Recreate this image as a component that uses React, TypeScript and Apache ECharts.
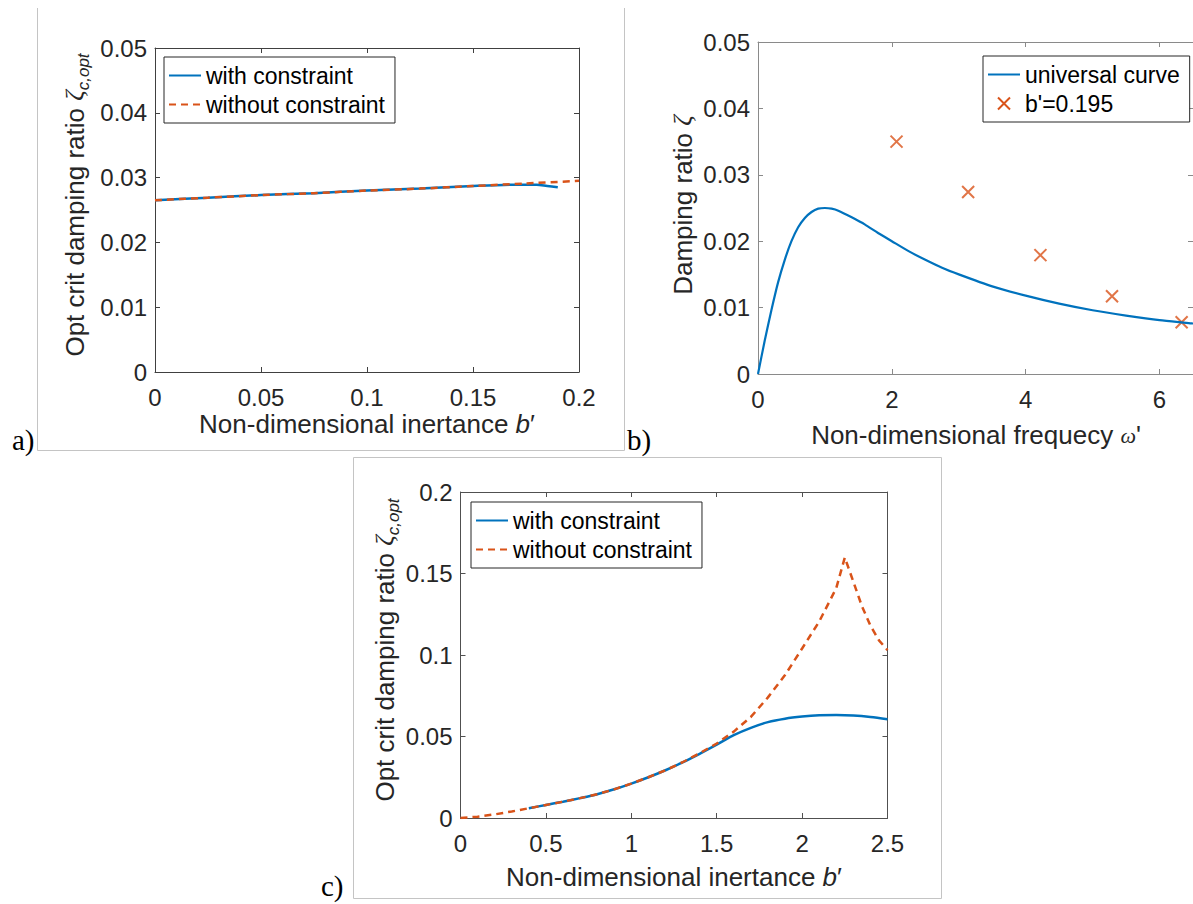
import React, { useEffect, useRef } from "react";
import * as echarts from "echarts";

// ---------- Panel a) data ----------
const aInertanceWith = [0, 0.025, 0.05, 0.075, 0.1, 0.125, 0.15, 0.17, 0.18, 0.185, 0.19];
const aZetaWith = [0.0265, 0.0269, 0.0273, 0.0276, 0.028, 0.0283, 0.0287, 0.0289, 0.0289, 0.0287, 0.0285];
const aInertanceWithout = [0, 0.025, 0.05, 0.075, 0.1, 0.125, 0.15, 0.175, 0.2];
const aZetaWithout = [0.0265, 0.0269, 0.0273, 0.0276, 0.028, 0.0283, 0.0287, 0.0291, 0.0295];
const aXTicks = [0, 0.05, 0.1, 0.15, 0.2];
const aYTicks = [0, 0.01, 0.02, 0.03, 0.04, 0.05];

// ---------- Panel b) data ----------
const bOmega = [0, 0.1, 0.2, 0.3, 0.4, 0.5, 0.6, 0.7, 0.8, 0.9, 1.0, 1.1, 1.2, 1.4, 1.6, 1.8, 2.0, 2.25, 2.5, 2.75, 3.0, 3.5, 4.0, 4.5, 5.0, 5.5, 6.0, 6.5];
const bZetaUniversal = [0, 0.005, 0.0096, 0.0138, 0.0172, 0.02, 0.0221, 0.0235, 0.0244, 0.0249, 0.025, 0.0249, 0.0246, 0.0236, 0.0225, 0.0212, 0.02, 0.0185, 0.0172, 0.016, 0.015, 0.0132, 0.0118, 0.0106, 0.0096, 0.0088, 0.0081, 0.0076];
const bOmegaMarks = [2.07, 3.14, 4.22, 5.29, 6.33];
const bZetaMarks = [0.035, 0.0274, 0.0179, 0.0117, 0.0078];
const bXTicks = [0, 2, 4, 6];
const bXMax = 6.5;
const bYTicks = [0, 0.01, 0.02, 0.03, 0.04, 0.05];

// ---------- Panel c) data ----------
const cInertanceWith = [0.4, 0.5, 0.6, 0.7, 0.8, 0.9, 1.0, 1.1, 1.2, 1.3, 1.4, 1.5, 1.6, 1.7, 1.8, 1.9, 2.0, 2.1, 2.2, 2.3, 2.4, 2.5];
const cZetaWith = [0.006, 0.008, 0.01, 0.0122, 0.0146, 0.0176, 0.0211, 0.025, 0.0293, 0.0341, 0.0394, 0.045, 0.0508, 0.0553, 0.0588, 0.0609, 0.0622, 0.063, 0.0632, 0.0629, 0.062, 0.0606];
const cInertanceWithout = [0, 0.1, 0.2, 0.3, 0.4, 0.5, 0.6, 0.7, 0.8, 0.9, 1.0, 1.1, 1.2, 1.3, 1.4, 1.5, 1.6, 1.7, 1.8, 1.9, 2.0, 2.1, 2.2, 2.25, 2.3, 2.35, 2.4, 2.45, 2.5];
const cZetaWithout = [0, 0.0008, 0.0022, 0.004, 0.006, 0.008, 0.01, 0.0122, 0.0146, 0.0176, 0.0211, 0.025, 0.0293, 0.0342, 0.0397, 0.0457, 0.053, 0.062, 0.074, 0.0877, 0.104, 0.1205, 0.141, 0.1598, 0.145, 0.13, 0.118, 0.109, 0.103];
const cXTicks = [0, 0.5, 1, 1.5, 2, 2.5];
const cYTicks = [0, 0.05, 0.1, 0.15, 0.2];

const seriesNames = ["with constraint", "without constraint"];
const bSeriesNames = ["universal curve", "b'=0.195"];

const BLUE = "#0072BD";
const ORANGE = "#D95319";
const FONT = "'Liberation Sans', Arial, Helvetica, sans-serif";
const SERIF = "'Liberation Serif', 'Times New Roman', serif";
const TXT = "#262626";
const XMARK = "path://M0,0L10,10M10,0L0,10";

const zip = (xs: number[], ys: number[]) => xs.map((x, i) => [x, ys[i]]);

function axisPair(
  kind: "x" | "y",
  gridIndex: number,
  ticks: number[],
  color: string,
  max?: number
) {
  const min = ticks[0];
  const interval = ticks[1] - ticks[0];
  const mx = max !== undefined ? max : ticks[ticks.length - 1];
  const base = {
    type: "value",
    gridIndex,
    min,
    max: mx,
    interval,
    splitLine: { show: false },
    axisLine: { show: true, onZero: false, lineStyle: { color, width: 1 } },
    axisTick: { show: true, inside: true, length: 5, lineStyle: { color, width: 1 } },
  };
  const main = {
    ...base,
    position: kind === "x" ? "bottom" : "left",
    axisLabel: {
      show: true,
      fontSize: 24,
      fontFamily: FONT,
      color: TXT,
      margin: kind === "x" ? 13 : 8,
      showMaxLabel: max !== undefined ? false : true,
    },
  };
  const other = {
    ...base,
    position: kind === "x" ? "top" : "right",
    axisLabel: { show: false },
  };
  return [main, other];
}

const hiddenDot = { opacity: 0 };

function legendBox(left: number, top: number, data: any[]) {
  return {
    left,
    top,
    orient: "vertical",
    itemWidth: 32,
    itemHeight: 12,
    itemGap: 6,
    padding: [7, 10, 7, 4],
    borderColor: TXT,
    borderWidth: 1,
    borderRadius: 0,
    backgroundColor: "#ffffff",
    selectedMode: false,
    textStyle: { fontSize: 23, color: "#000", fontFamily: FONT },
    data,
  };
}

function yTitle(x: number, y: number, text: string) {
  return {
    type: "text",
    x,
    y,
    rotation: Math.PI / 2,
    style: {
      text,
      align: "center",
      verticalAlign: "middle",
      rich: {
        n: { fontSize: 26, fontFamily: FONT, fill: TXT, lineHeight: 34 },
        z: { fontSize: 26, fontFamily: SERIF, fontStyle: "italic", fill: TXT, lineHeight: 34 },
        s: { fontSize: 17, fontFamily: FONT, fontStyle: "italic", fill: TXT, verticalAlign: "bottom" },
      },
    },
  };
}

function xTitle(x: number, y: number, text: string) {
  return {
    type: "text",
    x,
    y,
    style: {
      text,
      align: "center",
      verticalAlign: "middle",
      rich: {
        n: { fontSize: 26, fontFamily: FONT, fill: TXT, lineHeight: 26 },
        i: { fontSize: 26, fontFamily: FONT, fontStyle: "italic", fill: TXT, lineHeight: 26 },
        w: { fontSize: 22, fontFamily: SERIF, fontStyle: "italic", fill: TXT, lineHeight: 26 },
      },
    },
  };
}

function panelLabel(x: number, y: number, text: string) {
  return {
    type: "text",
    x,
    y,
    style: { text, fontSize: 29, fontFamily: SERIF, fill: "#000", align: "left", verticalAlign: "middle" },
  };
}

function frameLine(x1: number, y1: number, x2: number, y2: number) {
  return {
    type: "line",
    shape: { x1, y1, x2, y2 },
    style: { stroke: "#c4c4c4", lineWidth: 1 },
    silent: true,
  };
}

export default function App() {
  const ref = useRef<HTMLDivElement>(null);

  useEffect(() => {
    if (!ref.current) return;
    const chart = echarts.init(ref.current, undefined, { renderer: "svg" });

    const [ax0, ax1] = axisPair("x", 0, aXTicks, "#404040");
    const [ay0, ay1] = axisPair("y", 0, aYTicks, "#404040");
    const [bx0, bx1] = axisPair("x", 1, bXTicks, "#8a8a8a", bXMax);
    const [by0, by1] = axisPair("y", 1, bYTicks, "#8a8a8a");
    const [cx0, cx1] = axisPair("x", 2, cXTicks, "#505050");
    const [cy0, cy1] = axisPair("y", 2, cYTicks, "#505050");

    const lineLegendData = seriesNames.map((name) => ({ name, itemStyle: hiddenDot }));

    const option: any = {
      animation: false,
      backgroundColor: "#ffffff",
      grid: [
        { left: 155, top: 48, width: 424, height: 324 },
        { left: 758, top: 42, width: 437, height: 332 },
        { left: 460.5, top: 492, width: 427, height: 326 },
      ],
      xAxis: [ax0, ax1, bx0, bx1, cx0, cx1],
      yAxis: [ay0, ay1, by0, by1, cy0, cy1],
      legend: [
        legendBox(164, 57, lineLegendData),
        legendBox(983, 56, [
          { name: bSeriesNames[0], itemStyle: hiddenDot },
          {
            name: bSeriesNames[1],
            icon: XMARK,
            itemStyle: { color: "rgba(0,0,0,0)", borderColor: ORANGE, borderWidth: 2, opacity: 1 },
          },
        ]),
        legendBox(471, 502, lineLegendData),
      ],
      series: [
        {
          name: seriesNames[0],
          type: "line",
          xAxisIndex: 0,
          yAxisIndex: 0,
          data: zip(aInertanceWith, aZetaWith),
          symbol: "none",
          smooth: 0.3,
          lineStyle: { color: BLUE, width: 2.5 },
          itemStyle: { color: BLUE },
        },
        {
          name: seriesNames[1],
          type: "line",
          xAxisIndex: 0,
          yAxisIndex: 0,
          data: zip(aInertanceWithout, aZetaWithout),
          symbol: "none",
          smooth: 0.3,
          lineStyle: { color: ORANGE, width: 2.5, type: [7, 5] },
          itemStyle: { color: ORANGE },
        },
        {
          name: bSeriesNames[0],
          type: "line",
          xAxisIndex: 2,
          yAxisIndex: 2,
          data: zip(bOmega, bZetaUniversal),
          symbol: "none",
          smooth: 0.2,
          lineStyle: { color: BLUE, width: 2.2 },
          itemStyle: { color: BLUE },
        },
        {
          name: bSeriesNames[1],
          type: "scatter",
          xAxisIndex: 2,
          yAxisIndex: 2,
          data: zip(bOmegaMarks, bZetaMarks),
          symbol: XMARK,
          symbolSize: 12,
          itemStyle: { color: "rgba(0,0,0,0)", borderColor: ORANGE, borderWidth: 2 },
        },
        {
          name: seriesNames[0],
          type: "line",
          xAxisIndex: 4,
          yAxisIndex: 4,
          data: zip(cInertanceWith, cZetaWith),
          symbol: "none",
          smooth: 0.3,
          lineStyle: { color: BLUE, width: 2.5 },
          itemStyle: { color: BLUE },
        },
        {
          name: seriesNames[1],
          type: "line",
          xAxisIndex: 4,
          yAxisIndex: 4,
          data: zip(cInertanceWithout, cZetaWithout),
          symbol: "none",
          lineStyle: { color: ORANGE, width: 2.5, type: [7, 5] },
          itemStyle: { color: ORANGE },
        },
      ],
      graphic: [
        // panel frames
        frameLine(37.5, 8, 37.5, 450.5),
        frameLine(37.5, 450.5, 624.5, 450.5),
        frameLine(624.5, 8, 624.5, 450.5),
        frameLine(353.5, 457.5, 941.5, 457.5),
        frameLine(353.5, 457.5, 353.5, 898.5),
        frameLine(941.5, 457.5, 941.5, 898.5),
        frameLine(353.5, 898.5, 941.5, 898.5),
        // panel labels
        panelLabel(12, 440, "a)"),
        panelLabel(627, 440, "b)"),
        panelLabel(321, 886, "c)"),
        // axis titles
        yTitle(74.5, 205, "{n|Opt crit damping ratio }{z|ζ}{s|c,opt}"),
        xTitle(367, 424, "{n|Non-dimensional inertance }{i|b}{n|′}"),
        yTitle(682.5, 205, "{n|Damping ratio }{z|ζ}"),
        xTitle(976, 435, "{n|Non-dimensional frequecy }{w|ω}{n|'}"),
        yTitle(384.7, 650, "{n|Opt crit damping ratio }{z|ζ}{s|c,opt}"),
        xTitle(674, 877, "{n|Non-dimensional inertance }{i|b}{n|′}"),
      ],
    };

    chart.setOption(option);
    return () => chart.dispose();
  }, []);

  return (
    <div
      ref={ref}
      style={{ position: "absolute", left: 0, top: 0, width: 1193, height: 904, background: "#fff" }}
    />
  );
}
